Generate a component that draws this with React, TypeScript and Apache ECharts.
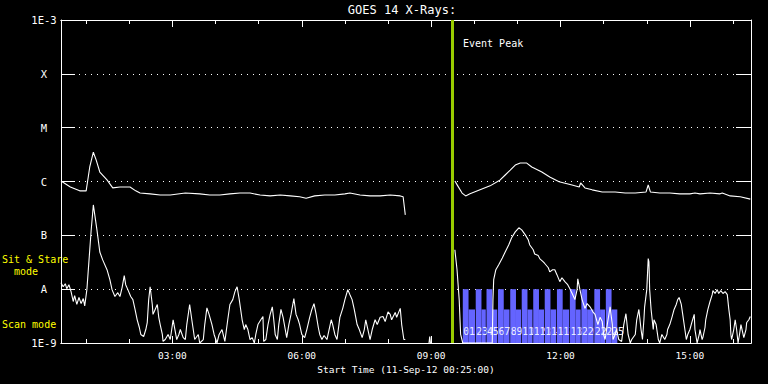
import React, { useEffect, useRef } from "react";
import * as echarts from "echarts";

// ---- axis ticks ----
const yTickLabels = ["1E-9", "A", "B", "C", "M", "X", "1E-3"];
const xTickMinutes = [180, 360, 540, 720, 900];
const xTickLabels = ["03:00", "06:00", "09:00", "12:00", "15:00"];
const xMinorMinutes = [60, 120, 240, 300, 420, 480, 600, 660, 780, 840, 960];
const startMinute = 25; // 00:25
const endMinute = 985; // 16:25
const eventPeakMinute = 570; // 09:30

// ---- GOES long channel (1-8 A), minutes since 00:00 / W m^-2 ----
const longTime = [
  25, 38, 51, 60, 65, 70, 74, 79, 89, 97, 107, 121, 129, 135, 149, 163, 177, 198, 218, 232, 246, 260, 274,
  288, 302, 316, 330, 344, 357, 366, 378, 392, 406, 420, 427, 441, 455, 469, 483, 497, 501, 504,
  540,
  573, 577, 583, 588, 594, 608, 622, 636, 643, 650, 657, 664, 673, 680, 694, 705, 718, 736, 746, 748,
  754, 764, 778, 796, 810, 824, 839, 842, 845, 858, 872, 886, 900, 907, 914, 928, 942, 945, 956, 970, 984,
];
const longFlux = [
  1.02e-6, 7.9e-7, 6.7e-7, 6.7e-7, 1.86e-6, 3.5e-6, 2.5e-6, 1.5e-6, 1.07e-6, 7.6e-7, 7.9e-7, 7.9e-7, 6.7e-7,
  6.1e-7, 5.9e-7, 5.6e-7, 5.6e-7, 6.1e-7, 5.9e-7, 5.6e-7, 5.6e-7, 5.9e-7, 6.1e-7, 6.1e-7, 5.6e-7, 5.4e-7,
  5.6e-7, 5.4e-7, 5.2e-7, 4.9e-7, 5.4e-7, 5.6e-7, 5.6e-7, 5.9e-7, 6.1e-7, 5.6e-7, 5.4e-7, 5.4e-7, 5.6e-7,
  5.4e-7, 5.2e-7, 2.4e-7,
  null,
  1.02e-6, 8.3e-7, 6.1e-7, 5.4e-7, 5.9e-7, 7.0e-7, 8.3e-7, 1.07e-6, 1.32e-6, 1.63e-6, 2.02e-6, 2.2e-6,
  2.2e-6, 1.86e-6, 1.5e-6, 1.21e-6, 9.9e-7, 8.6e-7, 7.9e-7, 9.4e-7, 7.6e-7, 7.0e-7, 6.4e-7, 6.4e-7,
  6.1e-7, 6.1e-7, 6.4e-7, 8.6e-7, 6.4e-7, 6.1e-7, 6.1e-7, 5.9e-7, 5.9e-7, 6.1e-7, 5.9e-7, 6.1e-7,
  5.9e-7, 6.1e-7, 5.4e-7, 5.2e-7, 4.7e-7,
];

// ---- GOES short channel (0.5-4 A) ----
const shortTime = [
  25, 28, 31, 33, 36, 39, 42, 44, 47, 50, 53, 56, 58, 61, 64, 67, 70, 72, 75, 79, 83, 89, 93, 96, 100, 104,
  107, 110, 113, 115, 118, 122, 125, 128, 131, 134, 136, 140, 143, 145, 147, 149, 152, 153, 156, 159, 161,
  163, 166, 167, 170, 174, 177, 181, 184, 186, 189, 191, 195, 198, 200, 204, 207, 211, 216, 218, 223, 225,
  228, 231, 235, 238, 242, 245, 249, 253, 257, 260, 264, 267, 270, 273, 277, 280, 282, 285, 288, 291, 294,
  296, 299, 303, 306, 307, 310, 313, 316, 319, 321, 323, 326, 328, 331, 334, 337, 339, 342, 345, 349, 352,
  355, 357, 360, 364, 367, 371, 374, 377, 380, 383, 385, 388, 391, 395, 398, 401, 403, 406, 409, 413, 417,
  420, 424, 427, 430, 433, 437, 440, 444, 447, 449, 452, 455, 458, 462, 465, 469, 473, 476, 480, 483, 485,
  490, 492, 497, 499, 502, 504,
  520, 537, 538, 539, 555,
  573, 576, 579, 581, 584, 594, 608, 622, 625, 626, 627, 630, 634, 639, 643, 648, 652, 657, 662, 666, 671,
  675, 677, 682, 684, 689, 691, 696, 698, 703, 705, 709, 712, 715, 719, 722, 726, 730, 733, 737, 740, 743,
  744, 747, 750, 754, 757, 761, 765, 768, 772, 775, 778, 780, 782, 785, 789, 792, 793, 796, 798, 801, 805,
  808, 811, 814, 817, 819, 824, 826, 829, 832, 834, 836, 837, 840, 842, 843, 844, 846, 849, 850, 853, 856,
  858, 861, 865, 868, 869, 872, 875, 878, 881, 883, 885, 888, 890, 893, 895, 897, 900, 903, 906, 907, 910,
  913, 914, 917, 918, 921, 922, 925, 928, 931, 932, 935, 938, 940, 943, 946, 949, 952, 954, 956, 957, 958,
  961, 963, 965, 967, 969, 971, 974, 975, 978, 979, 982, 984,
];
const shortFlux = [
  1.32e-8, 1.11e-8, 1.26e-8, 1.02e-8, 1.21e-8, 9.0e-9, 5.9e-9, 7.6e-9, 5.2e-9, 7.0e-9, 5.4e-9, 6.7e-9, 4.9e-9,
  9.8e-9, 3.5e-8, 1.26e-7, 3.67e-7, 2.4e-7, 1.26e-7, 4.9e-8, 3.5e-8, 2.3e-8, 1.5e-8, 9.8e-9, 7.3e-9, 8.6e-9,
  7.3e-9, 1.07e-8, 1.78e-8, 1.21e-8, 9.8e-9, 7.3e-9, 6.4e-9, 4.2e-9, 2.7e-9, 1.94e-9, 1.44e-9, 1.32e-9,
  1.78e-9, 2.4e-9, 6.4e-9, 1.11e-8, 5.2e-9, 3.4e-9, 4.2e-9, 5.2e-9, 3.0e-9, 2.2e-9, 1.44e-9, 1.07e-9,
  1.16e-9, 1.44e-9, 1.16e-9, 2.7e-9, 1.63e-9, 1.16e-9, 1.44e-9, 1.78e-9, 1.26e-9, 1.16e-9, 2.2e-9, 5.2e-9,
  2.7e-9, 1.16e-9, 1.44e-9, 1.0e-9, 1.16e-9, 2.2e-9, 4.5e-9, 3.4e-9, 2.2e-9, 1.44e-9, 1.0e-9, 1.44e-9,
  1.78e-9, 1.07e-9, 2.7e-9, 5.2e-9, 6.4e-9, 9.0e-9, 1.11e-8, 6.4e-9, 2.7e-9, 1.78e-9, 2.2e-9, 1.78e-9,
  1.16e-9, 1.26e-9, 1.0e-9, 1.44e-9, 2.2e-9, 2.7e-9, 3.1e-9, 1.07e-9, 1.16e-9, 2.2e-9, 3.4e-9, 4.7e-9,
  2.7e-9, 1.44e-9, 1.16e-9, 2.2e-9, 4.2e-9, 3.0e-9, 1.78e-9, 1.26e-9, 2.2e-9, 3.4e-9, 6.7e-9, 3.4e-9,
  2.7e-9, 2.2e-9, 1.44e-9, 1.26e-9, 1.78e-9, 3.0e-9, 4.2e-9, 5.4e-9, 3.4e-9, 1.94e-9, 1.44e-9, 1.16e-9,
  1.38e-9, 1.16e-9, 1.78e-9, 2.7e-9, 2.2e-9, 1.44e-9, 1.16e-9, 3.0e-9, 4.4e-9, 6.4e-9, 9.8e-9, 7.9e-9,
  6.4e-9, 4.2e-9, 2.2e-9, 1.78e-9, 1.26e-9, 1.78e-9, 2.7e-9, 1.78e-9, 1.16e-9, 1.78e-9, 2.7e-9, 2.2e-9,
  3.0e-9, 3.1e-9, 2.5e-9, 3.8e-9, 3.4e-9, 2.7e-9, 3.7e-9, 3.0e-9, 4.4e-9, 2.2e-9, 1.16e-9, 1.16e-9,
  null, 1.0e-9, 1.32e-9, 1.0e-9, null,
  5.4e-8, 2.3e-8, 6.4e-9, 1.44e-9, 1.0e-9, 1.0e-9, 1.0e-9, 1.0e-9, 1.0e-9, 6.4e-9, 1.5e-8, 2.3e-8, 2.84e-8,
  3.8e-8, 4.9e-8, 6.7e-8, 9.0e-8, 1.16e-7, 1.38e-7, 1.26e-7, 1.02e-7, 8.3e-8, 6.7e-8, 5.4e-8, 4.5e-8,
  4.2e-8, 3.7e-8, 3.2e-8, 3.0e-8, 2.5e-8, 2.1e-8, 2.3e-8, 2.3e-8, 1.86e-8, 1.38e-8, 1.63e-8, 1.38e-8,
  1.21e-8, 1.02e-8, 7.9e-9, 6.4e-9, 9.8e-9, 1.56e-8, 9.8e-9, 6.4e-9, 4.4e-9, 5.4e-9, 4.7e-9, 3.8e-9,
  3.4e-9, 2.2e-9, 3.0e-9, 2.5e-9, 1.44e-9, 1.16e-9, 2.2e-9, 4.7e-9, 2.2e-9, 1.16e-9, 1.44e-9, 1.78e-9,
  1.16e-9, 1.07e-9, 2.2e-9, 3.5e-9, 1.44e-9, 1.0e-9, 1.16e-9, 1.44e-9, 2.7e-9, 4.2e-9, 1.78e-9, 1.16e-9,
  2.7e-9, 4.7e-9, 9.8e-9, 3.7e-8, 3.2e-8, 9.8e-9, 4.2e-9, 1.78e-9, 2.7e-9, 2.2e-9, 1.16e-9, 1.0e-9,
  1.44e-9, 1.16e-9, 1.44e-9, 1.78e-9, 2.2e-9, 3.0e-9, 4.2e-9, 5.2e-9, 6.4e-9, 7.0e-9, 5.2e-9, 3.4e-9,
  1.78e-9, 1.16e-9, 1.44e-9, 1.78e-9, 2.5e-9, 3.4e-9, 1.78e-9, 1.0e-9, 1.44e-9, 1.78e-9, 1.16e-9, 1.26e-9,
  1.94e-9, 2.7e-9, 4.2e-9, 5.9e-9, 7.9e-9, 9.4e-9, 8.3e-9, 9.8e-9, 8.3e-9, 9.4e-9, 8.3e-9, 9.0e-9, 7.9e-9,
  4.4e-9, 2.7e-9, 1.44e-9, 1.16e-9, 1.78e-9, 2.7e-9, 1.78e-9, 1.0e-9, 1.44e-9, 2.2e-9, 1.44e-9, 1.26e-9,
  1.78e-9, 2.4e-9, 2.7e-9, 3.1e-9,
];

// ---- observation rasters (minutes) ----
const rasterStart = [
  584, 592, 602, 610, 617, 625, 633, 641, 650, 658, 666, 674, 682, 690, 698, 706, 715, 723, 733, 741, 749,
  757, 767, 775, 783, 791,
];
const rasterEnd = [
  592, 601, 610, 616, 625, 632, 641, 649, 658, 665, 674, 681, 690, 697, 706, 714, 723, 732, 741, 748, 757,
  766, 775, 782, 791, 799,
];
const rasterTop = [
  1e-8, 4.2e-9, 1e-8, 4.2e-9, 1e-8, 4.2e-9, 1e-8, 4.2e-9, 1e-8, 4.2e-9, 1e-8, 4.2e-9, 1e-8, 4.2e-9, 1e-8,
  4.2e-9, 1e-8, 4.2e-9, 1e-8, 4.2e-9, 1e-8, 4.2e-9, 1e-8, 4.2e-9, 1e-8, 4.2e-9,
];
const rasterLabels = [
  "0", "1", "2", "3", "4", "5", "6", "7", "8", "9", "10", "11", "12", "13", "14", "15", "16", "17", "18",
  "19", "20", "21", "22", "23", "24", "25",
];

const MONO = "'DejaVu Sans Mono', 'Liberation Mono', monospace";

export default function App() {
  const ref = useRef<HTMLDivElement>(null);

  useEffect(() => {
    document.body.style.margin = "0";
    document.body.style.background = "#000";
    if (!ref.current) return;
    const chart = echarts.init(ref.current, null, { renderer: "svg" });

    const longData = longTime.map((t, i) => [t, longFlux[i] == null ? "-" : longFlux[i]]);
    const shortData = shortTime.map((t, i) => [t, shortFlux[i] == null ? "-" : shortFlux[i]]);
    const rasterData = rasterStart.map((s, i) => [s, rasterEnd[i], rasterTop[i], i]);

    const xBase = {
      type: "value",
      min: startMinute,
      max: endMinute,
      gridIndex: 0,
      splitLine: { show: false },
      axisLine: { show: true, lineStyle: { color: "#fff", width: 1 } },
    };

    const option: any = {
      animation: false,
      backgroundColor: "#000",
      grid: { left: 61, right: 17, top: 20, bottom: 41, containLabel: false },
      xAxis: [
        {
          ...xBase,
          position: "bottom",
          axisTick: { show: true, inside: true, length: 7, customValues: xTickMinutes, lineStyle: { color: "#fff" } },
          axisLabel: {
            show: true,
            customValues: xTickMinutes,
            formatter: (v: number) => {
              const i = xTickMinutes.indexOf(Math.round(v));
              return i >= 0 ? xTickLabels[i] : "";
            },
            color: "#fff",
            fontFamily: MONO,
            fontSize: 9.5,
            margin: 7,
          },
          name: "Start Time (11-Sep-12 00:25:00)",
          nameLocation: "middle",
          nameGap: 20,
          nameTextStyle: { color: "#fff", fontFamily: MONO, fontSize: 9.5 },
        },
        {
          ...xBase,
          position: "bottom",
          axisTick: { show: true, inside: true, length: 4, customValues: xMinorMinutes, lineStyle: { color: "#fff" } },
          axisLabel: { show: false },
        },
        {
          ...xBase,
          position: "top",
          axisTick: { show: true, inside: true, length: 7, customValues: xTickMinutes, lineStyle: { color: "#fff" } },
          axisLabel: { show: false },
        },
        {
          ...xBase,
          position: "top",
          axisTick: { show: true, inside: true, length: 4, customValues: xMinorMinutes, lineStyle: { color: "#fff" } },
          axisLabel: { show: false },
        },
      ],
      yAxis: [
        {
          type: "log",
          logBase: 10,
          min: 1e-9,
          max: 1e-3,
          splitNumber: 6,
          position: "left",
          axisLine: { show: true, lineStyle: { color: "#fff", width: 1 } },
          axisTick: { show: true, inside: true, length: 14, lineStyle: { color: "#fff" } },
          axisLabel: {
            color: "#fff",
            fontFamily: MONO,
            fontSize: 10.5,
            align: "center",
            margin: 17,
            formatter: (v: number) => {
              const i = Math.round(Math.log10(v)) + 9;
              return yTickLabels[i] ?? "";
            },
          },
          splitLine: { show: true, lineStyle: { color: "#fff", width: 1, type: [1, 5] } },
        },
        {
          type: "log",
          logBase: 10,
          min: 1e-9,
          max: 1e-3,
          splitNumber: 6,
          position: "right",
          axisLine: { show: true, lineStyle: { color: "#fff", width: 1 } },
          axisTick: { show: true, inside: true, length: 15, lineStyle: { color: "#fff" } },
          axisLabel: { show: false },
          splitLine: { show: false },
        },
      ],
      series: [
        {
          type: "custom",
          name: "rasters",
          xAxisIndex: 0,
          yAxisIndex: 0,
          encode: { x: [0, 1], y: 2 },
          data: rasterData,
          clip: true,
          renderItem: (params: any, api: any) => {
            const s = api.value(0);
            const e = api.value(1);
            const top = api.value(2);
            const idx = api.value(3);
            const p0 = api.coord([s, top]);
            const p1 = api.coord([e, 1e-9]);
            return {
              type: "group",
              children: [
                {
                  type: "rect",
                  shape: { x: p0[0], y: p0[1], width: p1[0] - p0[0], height: p1[1] - p0[1] },
                  style: { fill: "#6464ff" },
                },
                {
                  type: "text",
                  style: {
                    text: rasterLabels[idx],
                    x: p0[0] + 0.5,
                    y: p1[1] - 12,
                    fill: "#ececff",
                    font: `10px ${MONO}`,
                    verticalAlign: "middle",
                    align: "left",
                  },
                },
              ],
            };
          },
        },
        {
          type: "line",
          name: "long",
          xAxisIndex: 0,
          yAxisIndex: 0,
          data: longData,
          showSymbol: false,
          connectNulls: false,
          lineStyle: { color: "#fff", width: 1.1 },
          markLine: {
            silent: true,
            symbol: ["none", "none"],
            label: { show: false },
            lineStyle: { color: "#99cc00", width: 3, type: "solid" },
            data: [{ xAxis: eventPeakMinute }],
          },
        },
        {
          type: "line",
          name: "short",
          xAxisIndex: 0,
          yAxisIndex: 0,
          data: shortData,
          showSymbol: false,
          connectNulls: false,
          lineStyle: { color: "#fff", width: 1.1 },
        },
      ],
      graphic: [
        {
          type: "text",
          x: 402,
          y: 10,
          style: { text: "GOES 14 X-Rays:", fill: "#fff", font: `12px ${MONO}`, align: "center", verticalAlign: "middle" },
        },
        {
          type: "text",
          x: 463,
          y: 43,
          style: { text: "Event Peak", fill: "#fff", font: `10px ${MONO}`, align: "left", verticalAlign: "middle" },
        },
        {
          type: "text",
          x: 2,
          y: 259,
          style: { text: "Sit & Stare", fill: "#ffff00", font: `10px ${MONO}`, align: "left", verticalAlign: "middle" },
        },
        {
          type: "text",
          x: 2,
          y: 271,
          style: { text: "  mode", fill: "#ffff00", font: `10px ${MONO}`, align: "left", verticalAlign: "middle" },
        },
        {
          type: "text",
          x: 2,
          y: 324,
          style: { text: "Scan mode", fill: "#ffff00", font: `10px ${MONO}`, align: "left", verticalAlign: "middle" },
        },
      ],
    };

    chart.setOption(option);
    return () => chart.dispose();
  }, []);

  return <div ref={ref} style={{ width: 768, height: 384, background: "#000" }} />;
}
